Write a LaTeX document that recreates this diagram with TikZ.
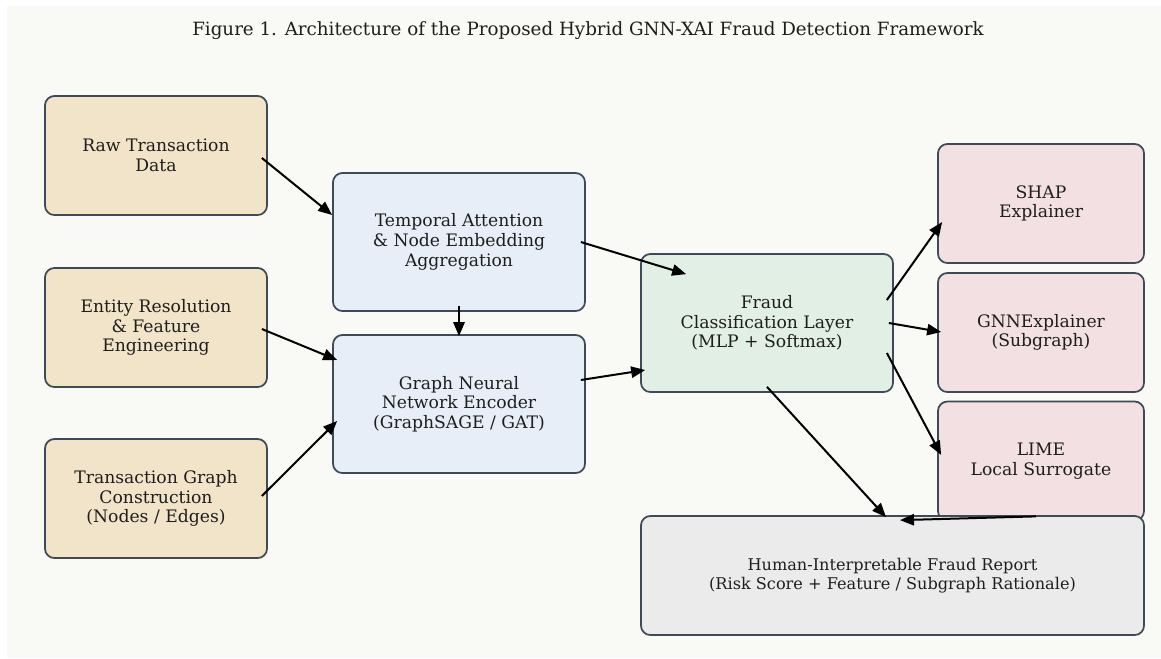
\documentclass[tikz,border=0pt]{standalone}
\usepackage{fontspec}
\setmainfont{DejaVu Serif}
\usetikzlibrary{arrows.meta,calc}
\definecolor{panel}{HTML}{F9F9F5}
\definecolor{edgec}{HTML}{3E4A56}
\definecolor{txt}{HTML}{1E1E1E}
\definecolor{beige}{HTML}{F2E4C8}
\definecolor{lblue}{HTML}{E7EEF8}
\definecolor{lgreen}{HTML}{E1EFE5}
\definecolor{lpink}{HTML}{F2E0E3}
\definecolor{lgray}{HTML}{EBEBEB}
\tikzset{
  box/.style={draw=edgec, line width=1.3pt, rounded corners=7pt, align=center,
    text=txt, font=\fontsize{12.9}{14.8}\selectfont, inner sep=0pt},
  inbox/.style={box, fill=beige, minimum width=166.5pt, minimum height=89.25pt},
  midbox/.style={box, fill=lblue, minimum width=189pt, minimum height=103.5pt},
  clsbox/.style={box, fill=lgreen, minimum width=189pt, minimum height=103.5pt},
  xaibox/.style={box, fill=lpink, minimum width=154.5pt, minimum height=89.25pt},
  repbox/.style={box, fill=lgray, minimum width=377.25pt, minimum height=89.25pt,
    font=\fontsize{12.1}{14.6}\selectfont},
  conn/.style={line width=1.5pt, -{Triangle[length=10.5pt,width=8.5pt]}}
}
\begin{document}
\begin{tikzpicture}[x=0.75pt,y=-0.75pt]
\useasboundingbox (0,0) rectangle (1161,658);
\fill[white] (0,0) rectangle (1161,658);
\fill[panel] (7,6) rectangle (1161,658);
\node[text=txt, font=\fontsize{13.7}{16}\selectfont] (title) at (588,31)
  {Figure 1. Architecture of the Proposed Hybrid GNN-XAI Fraud Detection Framework};

\node[inbox] (raw) at (156,155.5) {Raw Transaction\\Data};
\node[inbox] (ent) at (156,327.5) {Entity Resolution\\\& Feature\\Engineering};
\node[inbox] (tgc) at (156,498.5) {Transaction Graph\\Construction\\(Nodes / Edges)};
\node[midbox] (tem) at (459,242) {Temporal Attention\\\& Node Embedding\\Aggregation};
\node[midbox] (gnn) at (459,404) {Graph Neural\\Network Encoder\\(GraphSAGE / GAT)};
\node[clsbox] (cls) at (767,323) {Fraud\\Classification Layer\\(MLP + Softmax)};
\node[xaibox] (shap) at (1041,203.5) {SHAP\\Explainer};
\node[xaibox] (gexp) at (1041,332.5) {GNNExplainer\\(Subgraph)};
\node[xaibox] (lime) at (1041,461) {LIME\\Local Surrogate};
\node[repbox] (rep) at (892.5,575.5) {Human-Interpretable Fraud Report\\(Risk Score + Feature / Subgraph Rationale)};

\draw[conn] ($(raw.east)+(-6,2.5)$) -- ($(tem.west)+(0,-27)$);
\draw[conn] ($(ent.east)+(-6,1.5)$) -- ($(gnn.west)+(5,-44)$);
\draw[conn] ($(tgc.east)+(-6,-2.5)$) -- ($(gnn.west)+(5,17)$);
\draw[conn] ($(tem.south)+(0,-6)$) -- ($(gnn.north)+(0,2)$);
\draw[conn] ($(tem.east)+(-5,0)$) -- ($(cls.north west)+(46,21)$);
\draw[conn] ($(gnn.east)+(-5,-24)$) -- ($(cls.west)+(5,47)$);
\draw[conn] ($(cls.east)+(-7,-23)$) -- ($(shap.west)+(5,18.5)$);
\draw[conn] ($(cls.east)+(-5,0)$) -- ($(gexp.west)+(4,-0.5)$);
\draw[conn] ($(cls.east)+(-7,30)$) -- ($(lime.west)+(4,-6)$);
\draw[conn] ($(cls.south)+(0,-6)$) -- ($(rep.north)+(-6.5,2)$);
\draw[conn] ($(lime.south)+(-5,-5)$) -- ($(rep.north)+(7.5,5)$);
\end{tikzpicture}
\end{document}
